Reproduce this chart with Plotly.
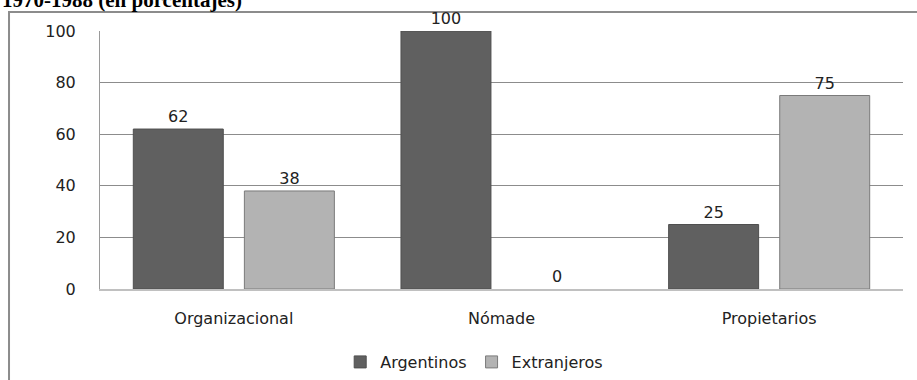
import plotly.graph_objects as go

categories = ["Organizacional", "Nómade", "Propietarios"]
argentinos = [62, 100, 25]
extranjeros = [38, 0, 75]
series_names = ["Argentinos", "Extranjeros"]
y_ticks = [0, 20, 40, 60, 80, 100]
title_text = "1970-1988 (en porcentajes)"

FONT = "DejaVu Sans"

fig = go.Figure()
fig.add_trace(go.Bar(
    name=series_names[0], x=categories, y=argentinos,
    marker=dict(color="#606060",
                line=dict(color="#4f4f4f", width=[1 if v > 0 else 0 for v in argentinos])),
    text=argentinos, textposition="outside", cliponaxis=False,
    textfont=dict(family=FONT, size=16, color="#222222"),
))
fig.add_trace(go.Bar(
    name=series_names[1], x=categories, y=extranjeros,
    marker=dict(color="#b3b3b3",
                line=dict(color="#7a7a7a", width=[1 if v > 0 else 0 for v in extranjeros])),
    text=extranjeros, textposition="outside", cliponaxis=False,
    textfont=dict(family=FONT, size=16, color="#222222"),
))

fig.update_layout(
    width=917, height=380,
    margin=dict(l=100, r=14, t=31, b=91, autoexpand=False),
    paper_bgcolor="white", plot_bgcolor="white",
    barmode="group", bargap=0.17, bargroupgap=0.19,
    showlegend=True,
    legend=dict(orientation="h", x=0.466, xanchor="center", y=-0.283, yanchor="middle",
                font=dict(family=FONT, size=16, color="#222222"),
                traceorder="normal"),
    xaxis=dict(
        showline=True, linecolor="#c0c0c0", linewidth=2,
        showgrid=False, ticks="", ticklabelstandoff=14,
        tickfont=dict(family=FONT, size=16, color="#222222"),
    ),
    yaxis=dict(
        range=[0, 100], tickvals=y_ticks, ticktext=[str(v) for v in y_ticks],
        showgrid=True, gridcolor="#8c8c8c", gridwidth=1,
        zeroline=False, showline=True, linecolor="#9a9a9a", linewidth=1,
        ticks="", ticklabelstandoff=20,
        tickfont=dict(family=FONT, size=16, color="#222222"),
    ),
    shapes=[dict(type="rect", xref="paper", yref="paper",
                 x0=-0.1133, x1=1.05, y0=-0.45, y1=1.0736,
                 line=dict(color="#8c8c8c", width=2), layer="below")],
    annotations=[dict(text="<b>" + title_text + "</b>", xref="paper", yref="paper",
                      x=-0.1245, xanchor="left", y=1.12, yanchor="middle",
                      showarrow=False,
                      font=dict(family="Liberation Serif", size=21, color="black"))],
)

fig.write_html("out.html")
